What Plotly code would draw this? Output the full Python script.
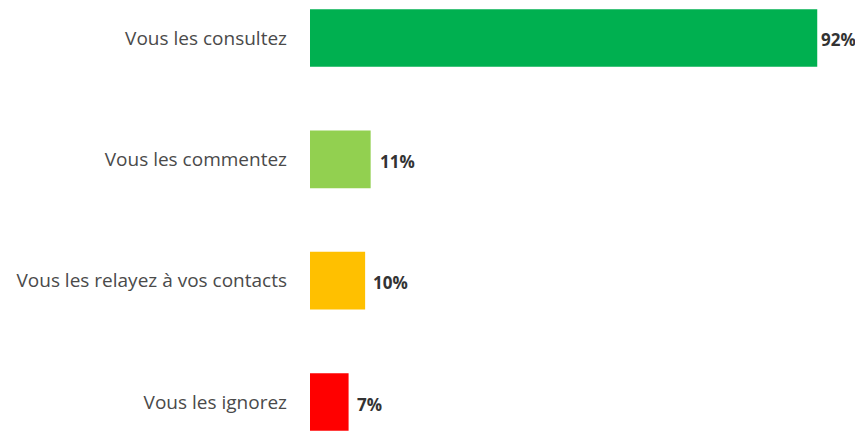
import plotly.graph_objects as go

categories = ["Vous les consultez", "Vous les commentez", "Vous les relayez à vos contacts", "Vous les ignorez"]
values = [92, 11, 10, 7]
value_labels = ["92%", "11%", "10%", "7%"]
colors = ["#00B050", "#92D050", "#FFC000", "#FF0000"]
label_shift = [2, 7, 6, 6]

fig = go.Figure()
fig.add_trace(go.Bar(
    y=categories, x=values, orientation="h",
    marker=dict(color=colors, line=dict(width=0)),
    width=0.475, hoverinfo="skip",
))
for c, v, t, s in zip(categories, values, value_labels, label_shift):
    fig.add_annotation(x=v, y=c, xref="x", yref="y", text="<b>" + t + "</b>",
                       showarrow=False, xanchor="left", xshift=s, yshift=-2,
                       font=dict(family="Open Sans", size=17, color="#333333"))

fig.update_layout(
    width=855, height=424,
    margin=dict(l=302, r=0, t=0, b=0),
    paper_bgcolor="white", plot_bgcolor="white",
    showlegend=False,
    xaxis=dict(range=[0, 100.3], visible=False, fixedrange=True),
    yaxis=dict(type="category", categoryorder="array", categoryarray=categories,
               range=[3.247, -0.247], showgrid=False, zeroline=False, showline=False,
               ticks="", ticklabelstandoff=22,
               tickfont=dict(family="Open Sans", size=19, color="#4a4a4a")),
)
fig.write_html("out.html")
